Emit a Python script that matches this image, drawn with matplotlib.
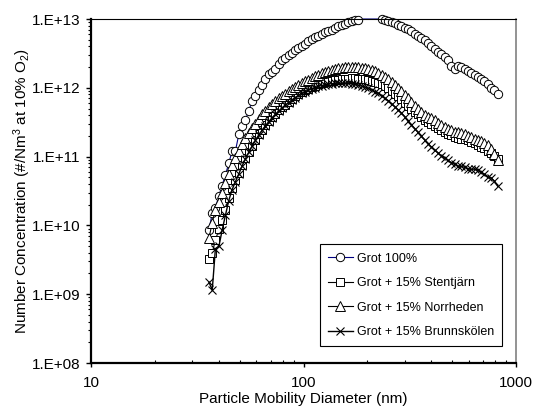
import numpy as np
import matplotlib
matplotlib.use("Agg")
import matplotlib.pyplot as plt
from matplotlib.ticker import NullFormatter, LogLocator

plt.rcParams["font.family"] = ["Liberation Sans", "DejaVu Sans"]
plt.rcParams["mathtext.fontset"] = "custom"
plt.rcParams["mathtext.rm"] = "Liberation Sans"
plt.rcParams["mathtext.it"] = "Liberation Sans:italic"

# particle mobility diameter (nm), SMPS channels
diameter = [
    35.9, 37.2, 38.5, 40.0, 41.4, 42.9, 44.5, 46.1, 47.8, 49.6,
    51.4, 53.3, 55.2, 57.3, 59.4, 61.5, 63.8, 66.1, 68.5, 71.0,
    73.7, 76.4, 79.1, 82.0, 85.1, 88.2, 91.4, 94.7, 98.2, 101.8,
    105.5, 109.4, 113.4, 117.6, 121.9, 126.3, 131.0, 135.8, 140.7, 145.9,
    151.2, 156.8, 162.5, 168.5, 174.7, 181.1, 187.7, 194.6, 201.7, 209.1,
    216.7, 224.7, 232.9, 241.4, 250.3, 259.5, 269.0, 278.8, 289.0, 299.6,
    310.6, 322.0, 333.8, 346.0, 358.7, 371.8, 385.4, 399.5, 414.2, 429.4,
    445.1, 461.4, 478.3, 495.8, 514.0, 532.8, 552.3, 572.5, 593.5, 615.3,
    637.8, 661.2, 685.4, 710.5, 736.5, 763.5, 791.5, 820.5,
]

grot_100 = [
    8.7e9, 1.5e10, 1.8e10, 2.7e10, 3.8e10, 5.4e10, 8.0e10, 1.2e11, 1.2e11, 2.1e11,
    2.8e11, 3.4e11, 4.6e11, 6.4e11, 7.6e11, 9.3e11, 1.1e12, 1.35e12, 1.6e12, 1.7e12,
    1.9e12, 2.2e12, 2.5e12, 2.7e12, 2.95e12, 3.2e12, 3.5e12, 3.8e12, 4.1e12, 4.4e12,
    4.75e12, 5.1e12, 5.4e12, 5.75e12, 6.1e12, 6.4e12, 6.7e12, 7.0e12, 7.4e12, 7.8e12,
    8.2e12, 8.6e12, 9.0e12, 9.3e12, 9.6e12, 9.8e12, 1.03e13, 1.06e13, 1.08e13, 1.08e13,
    1.06e13, 1.03e13, 9.95e12, 9.6e12, 9.3e12, 9.0e12, 8.7e12, 8.3e12, 7.9e12, 7.5e12,
    7.1e12, 6.6e12, 6.1e12, 5.7e12, 5.3e12, 4.9e12, 4.5e12, 4.1e12, 3.7e12, 3.35e12,
    3.05e12, 2.85e12, 2.55e12, 2.1e12, 1.85e12, 2.05e12, 2.0e12, 1.85e12, 1.75e12, 1.65e12,
    1.55e12, 1.45e12, 1.35e12, 1.25e12, 1.12e12, 9.8e11, 9.3e11, 8.0e11,
]

stentjarn = [
    3.2e9, 4.0e9, 6.1e9, 8.8e9, 1.2e10, 1.7e10, 2.5e10, 3.5e10, 4.5e10, 5.8e10,
    7.5e10, 9.5e10, 1.18e11, 1.45e11, 1.75e11, 2.1e11, 2.45e11, 2.85e11, 3.3e11, 3.75e11,
    4.2e11, 4.7e11, 5.2e11, 5.7e11, 6.3e11, 6.9e11, 7.5e11, 8.1e11, 8.7e11, 9.2e11,
    9.7e11, 1.02e12, 1.07e12, 1.12e12, 1.16e12, 1.2e12, 1.24e12, 1.27e12, 1.3e12, 1.32e12,
    1.34e12, 1.35e12, 1.36e12, 1.37e12, 1.37e12, 1.36e12, 1.35e12, 1.33e12, 1.3e12, 1.27e12,
    1.23e12, 1.18e12, 1.12e12, 1.05e12, 9.8e11, 9.0e11, 8.2e11, 7.5e11, 6.8e11, 6.1e11,
    5.5e11, 4.95e11, 4.5e11, 4.1e11, 3.75e11, 3.45e11, 3.2e11, 3.0e11, 2.8e11, 2.6e11,
    2.4e11, 2.25e11, 2.15e11, 2.05e11, 1.95e11, 1.85e11, 1.82e11, 1.78e11, 1.72e11, 1.64e11,
    1.56e11, 1.48e11, 1.4e11, 1.32e11, 1.22e11, 1.12e11, 1.02e11, 9.2e10,
]

norrheden = [
    6.5e9, 1.1e10, 1.7e10, 2.2e10, 3.0e10, 4.2e10, 5.5e10, 7.5e10, 9.5e10, 1.2e11,
    1.5e11, 1.85e11, 2.2e11, 2.6e11, 3.0e11, 3.5e11, 4.1e11, 4.6e11, 5.2e11, 5.8e11,
    6.4e11, 7.0e11, 7.6e11, 8.2e11, 8.9e11, 9.6e11, 1.03e12, 1.1e12, 1.17e12, 1.25e12,
    1.32e12, 1.4e12, 1.47e12, 1.55e12, 1.62e12, 1.69e12, 1.75e12, 1.81e12, 1.86e12, 1.91e12,
    1.95e12, 1.98e12, 2.0e12, 2.01e12, 2.0e12, 1.98e12, 1.95e12, 1.91e12, 1.86e12, 1.8e12,
    1.73e12, 1.64e12, 1.55e12, 1.45e12, 1.34e12, 1.22e12, 1.1e12, 9.9e11, 8.9e11, 7.9e11,
    7.0e11, 6.2e11, 5.5e11, 4.9e11, 4.4e11, 4.0e11, 3.8e11, 3.6e11, 3.35e11, 3.1e11,
    2.85e11, 2.65e11, 2.5e11, 2.4e11, 2.3e11, 2.25e11, 2.2e11, 2.15e11, 1.98e11, 1.9e11,
    1.82e11, 1.75e11, 1.68e11, 1.6e11, 1.48e11, 1.3e11, 1.1e11, 9.0e10,
]

brunnskolen = [
    1.5e9, 1.15e9, 4.6e9, 5.0e9, 8.5e9, 1.4e10, 2.3e10, 3.3e10, 4.3e10, 5.6e10,
    7.3e10, 9.3e10, 1.15e11, 1.42e11, 1.72e11, 2.05e11, 2.4e11, 2.8e11, 3.2e11, 3.65e11,
    4.1e11, 4.6e11, 5.1e11, 5.6e11, 6.1e11, 6.7e11, 7.2e11, 7.8e11, 8.3e11, 8.8e11,
    9.3e11, 9.7e11, 1.01e12, 1.05e12, 1.08e12, 1.11e12, 1.13e12, 1.15e12, 1.16e12, 1.17e12,
    1.17e12, 1.17e12, 1.16e12, 1.14e12, 1.12e12, 1.09e12, 1.06e12, 1.02e12, 9.8e11, 9.3e11,
    8.8e11, 8.3e11, 7.7e11, 7.1e11, 6.5e11, 5.9e11, 5.3e11, 4.8e11, 4.3e11, 3.8e11,
    3.3e11, 2.9e11, 2.55e11, 2.25e11, 1.97e11, 1.75e11, 1.55e11, 1.38e11, 1.25e11, 1.13e11,
    1.03e11, 9.5e10, 8.8e10, 8.2e10, 7.7e10, 7.3e10, 7.2e10, 7.0e10, 6.7e10, 6.5e10,
    6.6e10, 6.3e10, 5.9e10, 5.5e10, 5.1e10, 4.9e10, 4.4e10, 3.7e10,
]

y_ticks = [1e8, 1e9, 1e10, 1e11, 1e12, 1e13]
y_tick_labels = ["1.E+08", "1.E+09", "1.E+10", "1.E+11", "1.E+12", "1.E+13"]
x_ticks = [10, 100, 1000]
x_tick_labels = ["10", "100", "1000"]
YMIN, YMAX = 1e8, 1e13


def main() -> None:
    fig = plt.figure(figsize=(5.35, 4.16), dpi=100)
    ax = fig.add_axes([0.1701, 0.1274, 0.7944, 0.8269])

    d = np.array(diameter)
    g = np.array(grot_100)

    # Excel style: points above the axis max are hidden, the line runs along the top
    ax.plot(d, np.minimum(g, YMAX), color="#000080", lw=0.8,
            marker="o", ms=6, mfc="white", mec="black", mew=0.7,
            markevery=list(g <= YMAX), label="Grot 100%", clip_on=False)
    ax.plot(d, stentjarn, color="black", lw=0.8,
            marker="s", ms=6, mfc="white", mec="black", mew=0.7,
            label="Grot + 15% Stentjärn", clip_on=False)
    ax.plot(d, norrheden, color="black", lw=0.8,
            marker="^", ms=6.5, mfc="white", mec="black", mew=0.7,
            label="Grot + 15% Norrheden", clip_on=False)
    ax.plot(d, brunnskolen, color="black", lw=1.0,
            marker="x", ms=6, mec="black", mew=0.8,
            label="Grot + 15% Brunnskölen", clip_on=False)

    ax.set_xscale("log")
    ax.set_yscale("log")
    ax.set_xlim(10, 1000)
    ax.set_ylim(YMIN, YMAX)

    ax.set_xticks(x_ticks)
    ax.set_xticklabels(x_tick_labels)
    ax.set_yticks(y_ticks)
    ax.set_yticklabels(y_tick_labels)
    ax.xaxis.set_minor_locator(LogLocator(base=10, subs=np.arange(2, 10)))
    ax.yaxis.set_minor_locator(LogLocator(base=10, subs=np.arange(2, 10)))
    ax.xaxis.set_minor_formatter(NullFormatter())
    ax.yaxis.set_minor_formatter(NullFormatter())

    ax.tick_params(axis="y", which="major", direction="out", length=3.6, width=1.0,
                   pad=4, labelsize=11)
    ax.tick_params(axis="y", which="minor", direction="out", length=2, width=0.8)
    ax.tick_params(axis="x", which="major", direction="out", length=3, width=1.0,
                   pad=6.5, labelsize=11)
    ax.tick_params(axis="x", which="minor", direction="in", length=2.5, width=0.8)

    for side in ["left", "bottom"]:
        ax.spines[side].set_linewidth(1.6)
        ax.spines[side].set_color("black")
    ax.spines["top"].set_linewidth(0.8)
    ax.spines["top"].set_color("black")
    ax.spines["right"].set_linewidth(1.2)
    ax.spines["right"].set_color("#808080")

    ax.set_xlabel("Particle Mobility Diameter (nm)", fontsize=11, labelpad=1)
    ax.set_ylabel("Number Concentration (#/Nm$^3$ at 10% O$_2$)", fontsize=11, labelpad=-1)

    leg = ax.legend(loc="lower right", bbox_to_anchor=(0.967, 0.049), borderaxespad=0,
                    fontsize=9, frameon=True, fancybox=False, framealpha=1,
                    edgecolor="black", handlelength=2.0, handletextpad=0.3,
                    labelspacing=1.0, borderpad=0.65)
    leg.get_frame().set_linewidth(0.8)

    fig.savefig("out.png", dpi=100)


if __name__ == "__main__":
    main()
